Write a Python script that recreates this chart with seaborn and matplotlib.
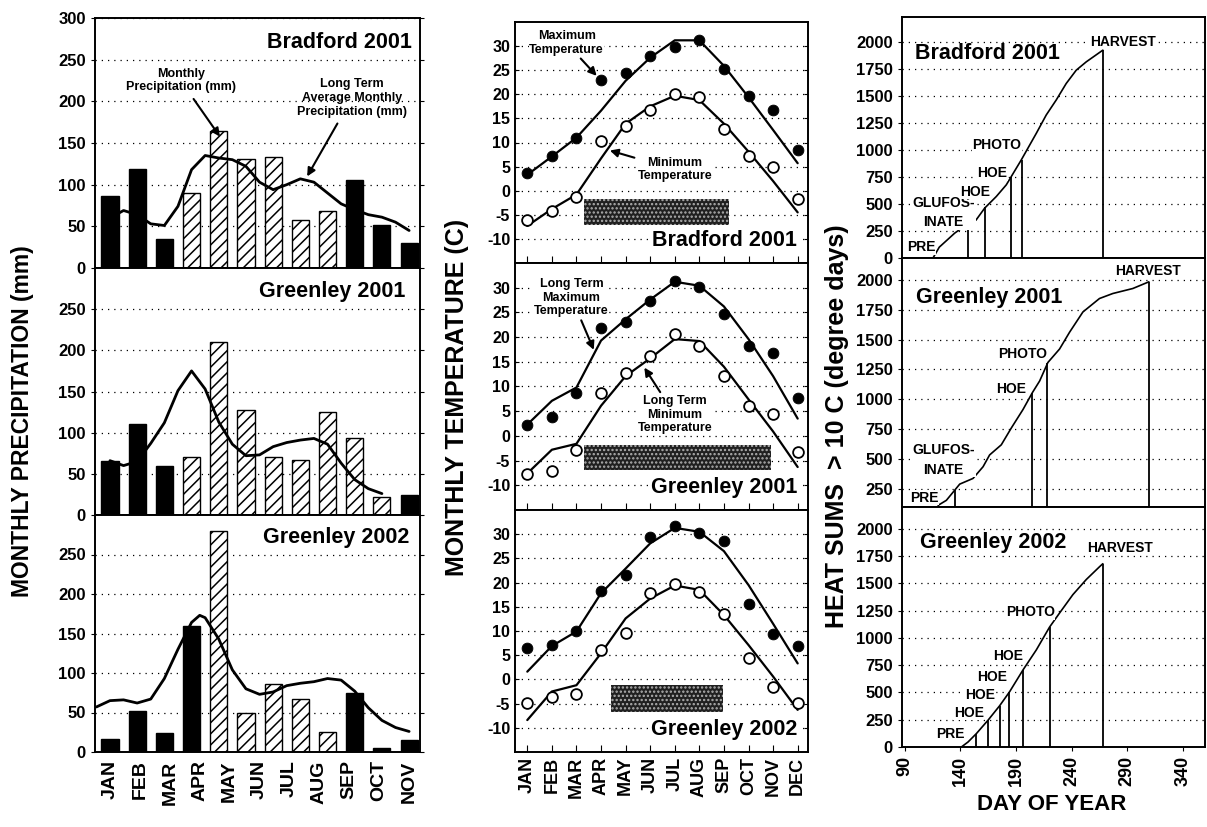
import numpy as np
import matplotlib
matplotlib.use('Agg')
import matplotlib.pyplot as plt
import seaborn as sns

sns.set_style('ticks')
plt.rcParams['font.family'] = ['Liberation Sans', 'DejaVu Sans']
plt.rcParams.update({
    'font.weight': 'bold',
    'axes.linewidth': 1.4,
    'axes.edgecolor': 'black',
    'hatch.linewidth': 1.1,
    'xtick.color': 'black',
    'ytick.color': 'black',
    'text.color': 'black',
    'axes.labelcolor': 'black',
    'axes.unicode_minus': False,
})

# ---------------- data ----------------
MONTH_TICKS = ['JAN', 'FEB', 'MAR', 'APR', 'MAY', 'JUN', 'JUL', 'AUG', 'SEP', 'OCT', 'NOV']
MONTHS = ['JAN', 'FEB', 'MAR', 'APR', 'MAY', 'JUN', 'JUL', 'AUG', 'SEP', 'OCT', 'NOV', 'DEC']
bar_slot = [0, 1, 2, 3, 4, 5, 6, 7, 8, 9, 10, 11]
month_idx = [0, 1, 2, 3, 4, 5, 6, 7, 8, 9, 10, 11]

# monthly precipitation (mm); hatched = 1 marks the hatched bars
brad01_rain = [86, 119, 35, 90, 164, 131, 133, 58, 69, 106, 52, 30]
brad01_hatch = [0, 0, 0, 1, 1, 1, 1, 1, 1, 0, 0, 0]
gree01_rain = [65, 111, 60, 71, 210, 128, 70, 67, 125, 93, 22, 24]
gree01_hatch = [0, 0, 0, 1, 1, 1, 1, 1, 1, 1, 1, 0]
gree02_rain = [16, 52, 24, 159, 280, 50, 86, 67, 25, 75, 5, 15]
gree02_hatch = [0, 0, 0, 0, 1, 1, 1, 1, 1, 0, 0, 0]

# long term average monthly precipitation
brad_lt_x = [0, 0.5, 1, 1.5, 2, 2.5, 3, 3.5, 4, 4.5, 5, 5.5, 6, 6.5, 7, 7.5, 8, 8.5, 9, 9.5, 10, 10.5, 11]
brad_lt_y = [60, 69, 64, 53, 51, 74, 118, 135, 132, 130, 122, 103, 94, 100, 107, 103, 90, 77, 70, 64, 61, 55, 45]
gree_lt01_x = [0, 0.5, 1, 1.5, 2, 2.5, 3, 3.5, 4, 4.5, 5, 5.5, 6, 6.5, 7, 7.5, 8, 8.5, 9, 9.5, 10]
gree_lt01_y = [66, 60, 65, 87, 112, 151, 175, 153, 113, 86, 72, 73, 83, 88, 91, 93, 86, 63, 43, 32, 26]
gree_lt02_x = [-0.5, 0, 0.5, 1, 1.5, 2, 2.5, 3, 3.3, 3.5, 4, 4.5, 5, 5.5, 6, 6.5, 7, 7.5, 8, 8.5, 9, 9.5, 10, 10.5, 11]
gree_lt02_y = [57, 65, 66, 62, 67, 93, 130, 164, 173, 170, 143, 104, 80, 73, 76, 84, 87, 89, 93, 91, 77, 56, 40, 31, 26]

# monthly temperatures (C)
brad01_tmax = [3.7, 7.2, 10.9, 22.9, 24.5, 27.9, 29.9, 31.2, 25.3, 19.6, 16.8, 8.5]
brad01_tmin = [-6.1, -4.3, -1.3, 10.3, 13.4, 16.8, 20.1, 19.4, 12.9, 7.2, 4.9, -1.7]
brad_ltmax = [3.3, 7.1, 11.0, 16.6, 22.8, 27.6, 31.2, 31.2, 25.9, 19.4, 12.6, 5.7]
brad_ltmin = [-7.3, -3.8, -0.8, 6.7, 13.9, 17.5, 19.7, 18.8, 13.9, 8.1, 2.0, -4.5]

gree01_tmax = [2.3, 3.8, 8.6, 21.8, 23.1, 27.3, 31.3, 30.2, 24.6, 18.1, 16.7, 7.6]
gree01_tmin = [-7.7, -7.2, -2.8, 8.6, 12.8, 16.1, 20.6, 18.1, 12.1, 6.1, 4.5, -3.2]
gree01_ltmax = [2.3, 7.1, 9.8, 19.3, 23.6, 27.6, 31.2, 30.4, 26.2, 19.6, 12.1, 3.5]
gree01_ltmin = [-7.6, -2.8, -1.6, 6.1, 12.1, 15.7, 19.6, 19.2, 14.0, 7.4, 0.9, -6.3]

gree02_tmax = [6.5, 7.2, 9.9, 18.3, 21.6, 29.5, 31.7, 30.2, 28.5, 15.6, 9.4, 6.8]
gree02_tmin = [-4.8, -3.6, -3.1, 6.1, 9.6, 17.9, 19.8, 18.1, 13.5, 4.5, -1.5, -4.8]
gree02_ltmax = [1.6, 6.9, 9.9, 17.8, 22.9, 28.1, 31.3, 30.5, 26.5, 19.5, 11.5, 3.3]
gree02_ltmin = [-8.4, -2.5, -1.2, 5.4, 12.6, 16.7, 19.4, 18.5, 13.3, 7.1, 0.6, -6.3]

# growing season box (month position start/end, temperature bottom/top)
brad01_season = [2.3, 8.2, -7.1, -1.8]
gree01_season = [2.3, 9.9, -6.9, -1.9]
gree02_season = [3.4, 7.95, -6.7, -1.2]

# cumulative heat sums > 10 C (degree days) by day of year
brad01_day = [115.4, 121, 135, 146.9, 154, 161.9, 172.3, 181.3, 194.8, 208.3, 217.2, 226.2, 235.2, 244.2, 253.2, 268.1]
brad01_gdd = [0, 100, 231, 317, 350, 462, 569, 677, 908, 1154, 1323, 1462, 1615, 1738, 1815, 1923]
brad01_event_day = [146.9, 161.9, 185.3, 195.4, 268.1]
brad01_event_gdd = [300, 470, 750, 905, 1923]

gree01_day = [120, 127.4, 134.9, 139.4, 151.4, 160.4, 166.3, 176.8, 185.8, 196.3, 204.7, 211.3,
              218.7, 229.2, 238.2, 250.2, 265.1, 277.1, 295.1, 309.5]
gree01_gdd = [109, 151, 236, 287, 335, 433, 532, 617, 758, 913, 1054, 1153,
              1308, 1421, 1562, 1732, 1845, 1887, 1929, 1985]
gree01_event_day = [134.9, 204.7, 218.1, 310]
gree01_event_gdd = [236, 1054, 1300, 1985]

gree02_day = [140.9, 146.9, 154.4, 164.9, 175.3, 184.3, 196.3, 208.3, 220.2, 229.2, 241.2, 253.2, 265.1, 268.1]
gree02_gdd = [0, 46, 123, 246, 378, 507, 706, 890, 1099, 1228, 1397, 1535, 1652, 1680]
gree02_event_day = [154.4, 164.9, 175.3, 183.7, 196.3, 220.2, 268.1]
gree02_event_gdd = [123, 246, 378, 500, 706, 1099, 1680]

# event labels: (text, day, degree days)
brad01_labels = [('PRE', 92, 100, 'left'), ('GLUFOS-\nINATE', 125, 420, 'center'),
                 ('HOE', 153.5, 615, 'center'), ('HOE', 168.4, 785, 'center'),
                 ('PHOTO', 173, 1046, 'center'), ('HARVEST', 286, 2000, 'center')]
gree01_labels = [('PRE', 95, 174, 'left'), ('GLUFOS-\nINATE', 125, 490, 'center'),
                 ('HOE', 185.2, 1088, 'center'), ('PHOTO', 195.7, 1379, 'center'),
                 ('HARVEST', 309, 2076, 'center')]
gree02_labels = [('PRE', 131, 123, 'center'), ('HOE', 147.5, 313, 'center'),
                 ('HOE', 158, 476, 'center'), ('HOE', 168.4, 645, 'center'),
                 ('HOE', 182.8, 835, 'center'), ('PHOTO', 202.9, 1234, 'center'),
                 ('HARVEST', 284, 1827, 'center')]

W, H = 1207, 827
fig = plt.figure(figsize=(W / 100, H / 100), dpi=100)


def box(x0, y0, x1, y1):
    """Axes rectangle from pixel corners (top-left origin)."""
    return [x0 / W, 1 - y1 / H, (x1 - x0) / W, (y1 - y0) / H]


GRID = dict(axis='y', linestyle=(0, (1, 4)), color='black', linewidth=0.9)
TITLE_BOX = dict(facecolor='white', edgecolor='none', pad=0.6)
ARROW = dict(arrowstyle='-|>', color='black', lw=1.5, mutation_scale=12)
NOTE_BOX = dict(facecolor='white', edgecolor='none', pad=0.3)


def draw_rain(ax, rain, hatched, lt_x, lt_y, title, title_x, top=False, bottom=False):
    sns.barplot(x=bar_slot, y=rain, native_scale=True, width=0.63, color='black',
                edgecolor='black', linewidth=1.0, errorbar=None, ax=ax)
    for patch, h in zip(ax.patches, hatched):
        if h:
            patch.set_facecolor('white')
            patch.set_hatch('///')
        else:
            patch.set_facecolor('black')
    sns.lineplot(x=lt_x, y=lt_y, color='black', linewidth=2.0, sort=False, estimator=None, ax=ax)
    ax.set_xlim(-0.55, 11.4)
    ax.set_ylim(0, 300)
    ax.set_yticks(np.arange(0, 301 if top else 251, 50))
    ax.grid(**GRID)
    ax.set_axisbelow(True)
    ax.tick_params(axis='y', labelsize=12, direction='out', length=3, right=True)
    if bottom:
        ax.set_xticks(np.linspace(0, 11, len(MONTH_TICKS)))
        ax.set_xticklabels(MONTH_TICKS, rotation=90, fontsize=14)
        ax.tick_params(axis='x', length=0, pad=6)
    else:
        ax.set_xticks([])
    ax.set_xlabel('')
    ax.set_ylabel('')
    ax.text(title_x, 271, title, ha='right', va='center', fontsize=15.5)


def draw_temp(ax, tmax, tmin, ltmax, ltmin, season, title, bottom=False):
    ax.fill_between(season[:2], season[2], season[3], facecolor='#202020',
                    edgecolor='#b0b0b0', hatch='....', linewidth=0, zorder=2)
    sns.lineplot(x=month_idx, y=ltmax, color='black', linewidth=1.6, ax=ax)
    sns.lineplot(x=month_idx, y=ltmin, color='black', linewidth=1.6, ax=ax)
    sns.scatterplot(x=month_idx, y=tmax, color='black', edgecolor='black', s=60, zorder=4, ax=ax)
    sns.scatterplot(x=month_idx, y=tmin, color='white', edgecolor='black', linewidth=1.3,
                    s=60, zorder=4, ax=ax)
    ax.set_xlim(-0.5, 11.42)
    ax.set_ylim(-15, 35)
    ax.set_yticks(np.arange(-10, 31, 5))
    ax.grid(**GRID)
    ax.set_axisbelow(True)
    ax.tick_params(axis='y', labelsize=11.5, direction='in', length=3, right=True)
    ax.set_xticks(month_idx)
    ax.tick_params(axis='x', direction='in', length=5)
    if bottom:
        ax.set_xticklabels(MONTHS, rotation=90, fontsize=13)
    else:
        ax.set_xticklabels([])
    ax.set_xlabel('')
    ax.set_ylabel('')
    ax.text(10.98, -10.4, title, ha='right', va='center', fontsize=15.5, bbox=TITLE_BOX, zorder=5)


def draw_heat(ax, day, gdd, ev_day, ev_gdd, labels, title, title_xy, ylim, first_tick, bottom=False):
    sns.lineplot(x=day, y=gdd, color='black', linewidth=1.2, sort=False, estimator=None, ax=ax)
    ax.vlines(ev_day, ylim[0], ev_gdd, color='black', linewidth=1.3)
    for text, x, y, ha in labels:
        ax.text(x, y, text, ha=ha, va='center', fontsize=10, linespacing=1.5,
                bbox=dict(facecolor='white', edgecolor='none', pad=0.4), zorder=5)
    ax.text(title_xy[0], title_xy[1], title, ha='left', va='center', fontsize=15.5, zorder=5)
    ax.set_xlim(87.5, 360)
    ax.set_ylim(*ylim)
    ax.set_yticks(np.arange(first_tick, 2001, 250))
    ax.grid(**GRID)
    ax.set_axisbelow(True)
    ax.tick_params(axis='y', labelsize=12, direction='out', length=3)
    ax.set_xticks(np.arange(90, 341, 50))
    if bottom:
        ax.tick_params(axis='x', labelsize=13, labelrotation=90, length=3)
    else:
        ax.set_xticklabels([])
        ax.tick_params(axis='x', length=0)
    ax.set_xlabel('')
    ax.set_ylabel('')


# ---------------- left column: precipitation ----------------
ax = fig.add_axes(box(95, 18, 420, 268))
draw_rain(ax, brad01_rain, brad01_hatch, brad_lt_x, brad_lt_y, 'Bradford 2001', 11.1, top=True)
ax.annotate('Monthly\nPrecipitation (mm)', xy=(4.1, 155), xytext=(2.6, 225), ha='center',
            va='center', fontsize=9, arrowprops=ARROW)
ax.annotate('Long Term\nAverage Monthly\nPrecipitation (mm)', xy=(7.2, 107), xytext=(8.9, 204),
            ha='center', va='center', fontsize=9, arrowprops=ARROW)

ax = fig.add_axes(box(95, 268, 420, 515))
draw_rain(ax, gree01_rain, gree01_hatch, gree_lt01_x, gree_lt01_y, 'Greenley 2001', 10.85)

ax = fig.add_axes(box(95, 515, 420, 752))
draw_rain(ax, gree02_rain, gree02_hatch, gree_lt02_x, gree_lt02_y, 'Greenley 2002', 11.0, bottom=True)

# ---------------- middle column: temperature ----------------
ax = fig.add_axes(box(515, 22, 808, 263))
draw_temp(ax, brad01_tmax, brad01_tmin, brad_ltmax, brad_ltmin, brad01_season, 'Bradford 2001')
ax.annotate('Maximum\nTemperature', xy=(2.9, 23.4), xytext=(1.6, 30.6), ha='center', va='center',
            fontsize=9, bbox=NOTE_BOX, arrowprops=ARROW)
ax.annotate('Minimum\nTemperature', xy=(3.25, 8.5), xytext=(6.0, 4.4), ha='center', va='center',
            fontsize=9, bbox=NOTE_BOX, arrowprops=ARROW)

ax = fig.add_axes(box(515, 263, 808, 510))
draw_temp(ax, gree01_tmax, gree01_tmin, gree01_ltmax, gree01_ltmin, gree01_season, 'Greenley 2001')
ax.annotate('Long Term\nMaximum\nTemperature', xy=(2.75, 16.9), xytext=(1.8, 28), ha='center',
            va='center', fontsize=9, bbox=NOTE_BOX, arrowprops=ARROW)
ax.annotate('Long Term\nMinimum\nTemperature', xy=(4.7, 14.3), xytext=(6.0, 4.3), ha='center',
            va='center', fontsize=9, bbox=NOTE_BOX, arrowprops=ARROW)

ax = fig.add_axes(box(515, 510, 808, 752))
draw_temp(ax, gree02_tmax, gree02_tmin, gree02_ltmax, gree02_ltmin, gree02_season, 'Greenley 2002',
          bottom=True)

# ---------------- right column: heat sums ----------------
ax = fig.add_axes(box(902, 17, 1205, 258))
draw_heat(ax, brad01_day, brad01_gdd, brad01_event_day, brad01_event_gdd, brad01_labels,
          'Bradford 2001', (99, 1892), (0, 2230), 0)

ax = fig.add_axes(box(902, 258, 1205, 507))
draw_heat(ax, gree01_day, gree01_gdd, gree01_event_day, gree01_event_gdd, gree01_labels,
          'Greenley 2001', (100.5, 1853), (95, 2185), 250)

ax = fig.add_axes(box(902, 507, 1205, 747))
draw_heat(ax, gree02_day, gree02_gdd, gree02_event_day, gree02_event_gdd, gree02_labels,
          'Greenley 2002', (103.5, 1872), (0, 2200), 0, bottom=True)

# ---------------- shared axis labels ----------------
fig.text(23 / W, 0.491, 'MONTHLY PRECIPITATION (mm)', rotation=90, ha='center', va='center', fontsize=16.5)
fig.text(457 / W, 0.519, 'MONTHLY TEMPERATURE (C)', rotation=90, ha='center', va='center', fontsize=18)
fig.text(837 / W, 0.485, 'HEAT SUMS  > 10 C (degree days)', rotation=90, ha='center', va='center', fontsize=18)
fig.text(1052 / W, 1 - 805 / H, 'DAY OF YEAR', ha='center', va='center', fontsize=16)

fig.savefig('out.png', dpi=100)
